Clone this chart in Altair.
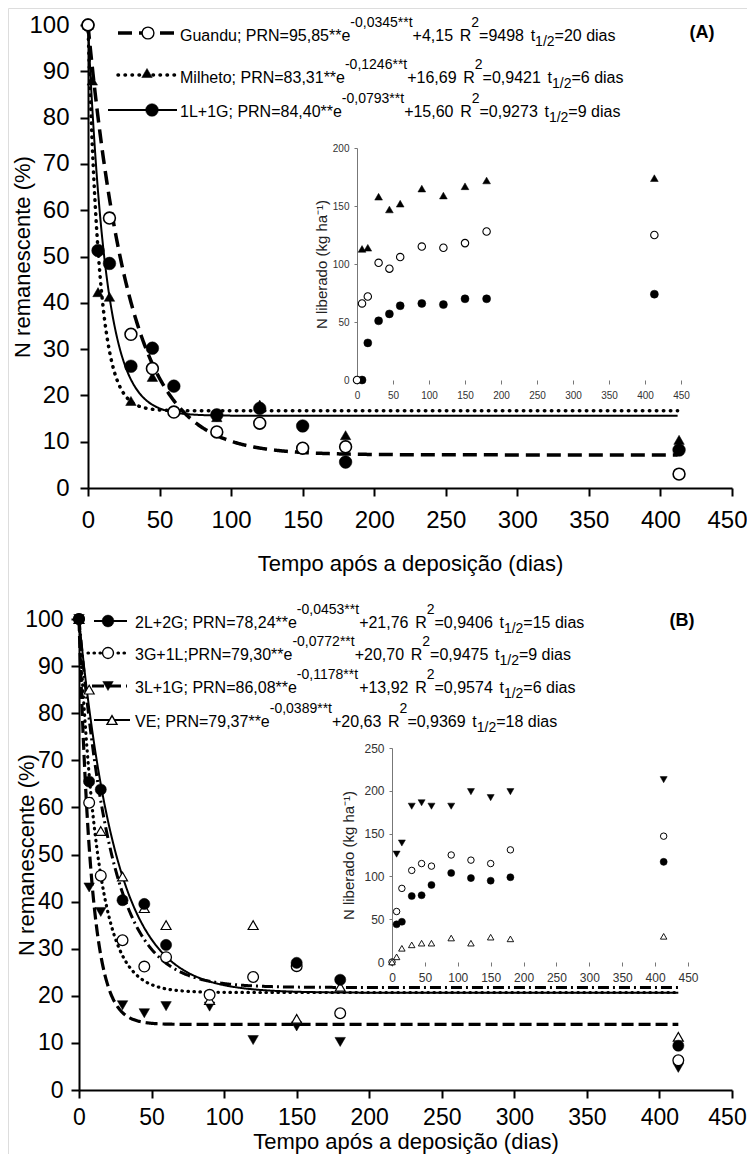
import altair as alt
import numpy as np
import pandas as pd

# ---------------- data ----------------
# Panel (A) - N remanescente (%)
a_guandu_t = [0, 15, 30, 45, 60, 90, 120, 150, 180, 413]
a_guandu_v = [100, 58.3, 33.2, 25.8, 16.4, 12.1, 14.0, 8.6, 8.9, 3.0]
a_milheto_t = [0, 3, 7, 15, 30, 45, 90, 120, 180, 413]
a_milheto_v = [100, 88, 42.3, 41.3, 18.8, 24.0, 15.3, 18.0, 11.4, 10.4]
a_l1g1_t = [0, 7, 15, 30, 45, 60, 90, 120, 150, 180, 413]
a_l1g1_v = [100, 51.3, 48.5, 26.3, 30.2, 22.0, 15.8, 17.2, 13.4, 5.6, 8.2]

# fitted curves of panel (A): amp*exp(-k t)+c
a_amp = [92.85, 83.31, 84.40]
a_k = [0.0345, 0.1246, 0.0793]
a_c = [7.15, 16.69, 15.60]

# inset (A) - N liberado (kg/ha)
ia_guandu_t = [0, 7, 15, 30, 45, 60, 90, 120, 150, 180, 413]
ia_guandu_v = [0, 66, 72, 101, 96, 106, 115, 114, 118, 128, 125]
ia_milheto_t = [7, 15, 30, 45, 60, 90, 120, 150, 180, 413]
ia_milheto_v = [113, 114, 158, 147, 152, 165, 159, 167, 172, 174]
ia_l1g1_t = [7, 15, 30, 45, 60, 90, 120, 150, 180, 413]
ia_l1g1_v = [0, 32, 51, 57, 64, 66, 65, 70, 70, 74]

# Panel (B)
b_2l2g_t = [0, 7, 15, 30, 45, 60, 150, 180, 413]
b_2l2g_v = [100, 65.5, 63.8, 40.3, 39.5, 30.8, 27.0, 23.4, 9.4]
b_3g1l_t = [0, 7, 15, 30, 45, 60, 90, 120, 150, 180, 413]
b_3g1l_v = [100, 61.0, 45.5, 31.8, 26.2, 28.2, 20.2, 24.0, 26.3, 16.3, 6.3]
b_3l1g_t = [0, 7, 15, 30, 45, 60, 90, 120, 150, 180, 413]
b_3l1g_v = [100, 43.0, 37.8, 18.0, 16.3, 17.8, 17.7, 10.6, 13.5, 10.2, 4.7]
b_ve_t = [0, 7, 15, 30, 45, 60, 90, 120, 150, 180, 413]
b_ve_v = [100, 85.0, 55.0, 45.3, 38.6, 35.0, 19.1, 35.0, 15.1, 21.9, 11.3]

b_amp = [78.24, 79.30, 86.08, 79.37]
b_k = [0.0453, 0.0772, 0.1178, 0.0389]
b_c = [21.76, 20.70, 13.92, 20.63]

# inset (B)
ib_2l2g_t = [7, 15, 30, 45, 60, 90, 120, 150, 180, 413]
ib_2l2g_v = [44, 47, 77, 78, 90, 104, 98, 95, 99, 117]
ib_3g1l_t = [0, 7, 15, 30, 45, 60, 90, 120, 150, 180, 413]
ib_3g1l_v = [0, 59, 86, 107, 115, 112, 125, 119, 115, 131, 147]
ib_3l1g_t = [7, 15, 30, 45, 60, 90, 120, 150, 180, 413]
ib_3l1g_v = [126, 139, 182, 186, 182, 182, 199, 192, 199, 213]
ib_ve_t = [0, 7, 15, 30, 45, 60, 90, 120, 150, 180, 413]
ib_ve_v = [0, 6, 16, 20, 22, 22, 28, 22, 29, 27, 30]

# legend texts
leg_a = [
    ["Guandu; PRN=95,85**e", "-0,0345**t", "+4,15", "R", "2", "=9498", "t", "1/2", "=20 dias"],
    ["Milheto; PRN=83,31**e", "-0,1246**t", "+16,69", "R", "2", "=0,9421", "t", "1/2", "=6 dias"],
    ["1L+1G; PRN=84,40**e", "-0,0793**t", "+15,60", "R", "2", "=0,9273", "t", "1/2", "=9 dias"],
]
leg_b = [
    ["2L+2G; PRN=78,24**e", "-0,0453**t", "+21,76", "R", "2", "=0,9406", "t", "1/2", "=15 dias"],
    ["3G+1L;PRN=79,30**e", "-0,0772**t", "+20,70", "R", "2", "=0,9475", "t", "1/2", "=9 dias"],
    ["3L+1G; PRN=86,08**e", "-0,1178**t", "+13,92", "R", "2", "=0,9574", "t", "1/2", "=6 dias"],
    ["VE; PRN=79,37**e", "-0,0389**t", "+20,63", "R", "2", "=0,9369", "t", "1/2", "=18 dias"],
]

# ---------------- layout ----------------
H = 1146
W = 739
FONT = "Liberation Sans"
BASE_FS = 16
SUP_FS = 14

AX, AY = [80, 724], [480, 17]
AIX, AIY = [349, 673], [372, 140]
BX, BY = [71, 724], [1082, 611]
BIX, BIY = [384, 680], [954, 740]

LAST_SHIFT = {"condition": {"test": "datum.value === 450", "value": -5}, "value": 0}


def sc(domain, rng):
    return alt.Scale(domain=domain, range=rng, nice=False, zero=False)


def main_x_axis(y_px, title_y, pad, fs):
    return alt.Axis(orient="bottom", offset=y_px - H, values=list(range(0, 451, 50)), grid=False,
                    domainColor="black", domainWidth=2, tickColor="black", tickWidth=2, tickSize=8,
                    labelFont=FONT, labelFontSize=fs, labelColor="black", labelPadding=pad,
                    labelFlush=False, labelOverlap=False, labelBound=False, labelOffset=LAST_SHIFT,
                    title="Tempo após a deposição (dias)", titleFont=FONT, titleFontSize=22,
                    titleFontWeight="normal", titleColor="black", titleY=title_y,
                    titleBaseline="alphabetic")


def main_y_axis(x_px, title_x, title_y, pad, fs):
    return alt.Axis(orient="left", offset=-x_px, values=list(range(0, 101, 10)), grid=False,
                    domainColor="black", domainWidth=2, tickColor="black", tickWidth=2, tickSize=8,
                    labelFont=FONT, labelFontSize=fs, labelColor="black", labelPadding=pad,
                    labelFlush=False, labelOverlap=False, labelBound=False,
                    title="N remanescente (%)", titleFont=FONT, titleFontSize=22,
                    titleFontWeight="normal", titleColor="black", titleX=title_x, titleY=title_y,
                    titleAngle=-90, titleBaseline="bottom", titleAlign="center")


def inset_x_axis(y_px, fs):
    return alt.Axis(orient="bottom", offset=y_px - H, values=list(range(0, 451, 50)), grid=False,
                    domain=False, tickColor="#777", tickWidth=1, tickSize=4,
                    labelFont=FONT, labelFontSize=fs, labelColor="#333", labelPadding=6,
                    labelFlush=False, labelOverlap=False, labelBound=False, title=None)


def inset_y_axis(x_px, ymax, title_x, title_y, fs):
    return alt.Axis(orient="left", offset=-x_px, values=list(range(0, ymax + 1, 50)), grid=False,
                    domainColor="#777", domainWidth=1, tickColor="#777", tickWidth=1, tickSize=3,
                    labelFont=FONT, labelFontSize=fs, labelColor="#333", labelPadding=5,
                    labelFlush=False, labelOverlap=False, labelBound=False,
                    title="N liberado (kg ha⁻¹)", titleFont=FONT, titleFontSize=15,
                    titleFontWeight="normal", titleColor="#222", titleX=title_x, titleY=title_y,
                    titleAngle=-90, titleBaseline="bottom", titleAlign="center")


STYLES = {
    "dashA": dict(strokeDash=[14, 7], strokeWidth=3.5),
    "dotA": dict(strokeDash=[0.5, 6.5], strokeWidth=3.5, strokeCap="round"),
    "solid": dict(strokeWidth=2),
    "dashB": dict(strokeDash=[12, 5], strokeWidth=3.2),
    "dotB": dict(strokeDash=[0.5, 5.5], strokeWidth=3.2, strokeCap="round"),
    "dashdot": dict(strokeDash=[11, 4, 2, 4], strokeWidth=3),
}


def curve(amp, k, c, tmax, xs, ys, style, xaxis=None, yaxis=None):
    t = np.arange(0, tmax + 0.01, 0.5)
    df = pd.DataFrame({"t": t, "v": c + amp * np.exp(-k * t)})
    return alt.Chart(df).mark_line(color="black", **STYLES[style]).encode(
        x=alt.X("t:Q", scale=xs, axis=xaxis), y=alt.Y("v:Q", scale=ys, axis=yaxis))


def pts(t, v, xs, ys, shape, filled, size, sw=1.4, xaxis=None, yaxis=None):
    df = pd.DataFrame({"t": t, "v": v})
    return alt.Chart(df).mark_point(
        shape=shape, filled=True, fill="black" if filled else "white", stroke="black",
        strokeWidth=0.5 if filled else sw, size=size, opacity=1).encode(
        x=alt.X("t:Q", scale=xs, axis=xaxis), y=alt.Y("v:Q", scale=ys, axis=yaxis))


ONE = pd.DataFrame({"a": [0]})


def leg_line(x1, x2, y, style):
    return alt.Chart(ONE).mark_rule(color="black", **STYLES[style]).encode(
        x=alt.value(x1), x2=alt.value(x2), y=alt.value(y))


def leg_marker(x, y, shape, filled, size):
    return alt.Chart(ONE).mark_point(
        shape=shape, filled=True, fill="black" if filled else "white", stroke="black",
        strokeWidth=0.5 if filled else 1.4, size=size, opacity=1).encode(
        x=alt.value(x), y=alt.value(y))


WID = {" ": 278, "(": 333, ")": 333, "*": 389, "+": 584, ",": 278, "-": 333, ".": 278,
       "/": 278, ";": 278, "=": 584, "A": 667, "B": 667, "E": 667, "G": 778, "L": 556,
       "M": 833, "N": 722, "P": 667, "R": 722, "V": 667, "a": 556, "d": 556, "e": 556,
       "h": 556, "i": 222, "l": 222, "n": 556, "o": 556, "s": 500, "t": 278, "u": 556}


def tw(s, fs):
    return sum(WID.get(ch, 556) for ch in s) * fs / 1000.0


KINDS = ["b", "sup", "b", "gap", "b", "sup", "b", "gap", "b", "sub", "b"]


def legend_rows(x0, yc, texts):
    rows = []
    x = x0
    parts = texts[:3] + [None] + texts[3:6] + [None] + texts[6:]
    for s, kind in zip(parts, KINDS):
        if kind == "gap":
            x += 1.5 * 278 * BASE_FS / 1000.0
            continue
        fs = BASE_FS if kind == "b" else SUP_FS
        dy = {"b": 0, "sup": -13, "sub": 6}[kind]
        rows.append({"x": x, "y": yc + dy, "s": s, "fs": fs})
        x += tw(s, fs)
    return rows


def text_layers(rows, bold=False):
    out = []
    df = pd.DataFrame(rows)
    for fs in sorted(df["fs"].unique()):
        sub = df[df["fs"] == fs].reset_index(drop=True)
        out.append(alt.Chart(sub).mark_text(
            align="left", baseline="middle", font=FONT, color="black", fontSize=float(fs),
            fontWeight="bold" if bold else "normal").encode(
            x=alt.X("x:Q", scale=None, axis=None), y=alt.Y("y:Q", scale=None, axis=None),
            text="s:N"))
    return out


layers = []

# ---------- panel A ----------
sAX, sAY = sc([0, 450], AX), sc([0, 100], AY)
layers.append(curve(a_amp[0], a_k[0], a_c[0], 412, sAX, sAY, "dashA",
                    xaxis=main_x_axis(480, 82, 12, 24),
                    yaxis=main_y_axis(80, -54, 248.5, 11, 24)))
layers.append(curve(a_amp[1], a_k[1], a_c[1], 412, sAX, sAY, "dotA"))
layers.append(curve(a_amp[2], a_k[2], a_c[2], 412, sAX, sAY, "solid"))
layers.append(pts(a_milheto_t, a_milheto_v, sAX, sAY, "triangle-up", True, 110))
layers.append(pts(a_l1g1_t, a_l1g1_v, sAX, sAY, "circle", True, 160))
layers.append(pts(a_guandu_t, a_guandu_v, sAX, sAY, "circle", False, 140, sw=1.6))

sAIX, sAIY = sc([0, 450], AIX), sc([0, 200], AIY)
layers.append(pts(ia_milheto_t, ia_milheto_v, sAIX, sAIY, "triangle-up", True, 60,
                  xaxis=inset_x_axis(372, 10), yaxis=inset_y_axis(349, 200, -28, 256, 10)))
layers.append(pts(ia_l1g1_t, ia_l1g1_v, sAIX, sAIY, "circle", True, 64))
layers.append(pts(ia_guandu_t, ia_guandu_v, sAIX, sAIY, "circle", False, 55, sw=1.1))

# legend A
layers.append(leg_line(110, 169, 25, "dashA"))
layers.append(leg_marker(140, 25, "circle", False, 140))
layers.append(leg_line(110, 169, 67, "dotA"))
layers.append(leg_marker(139, 65, "triangle-up", True, 110))
layers.append(leg_line(100, 169, 102, "solid"))
layers.append(leg_marker(144, 102, "circle", True, 160))
rows_a = []
for i, yc in enumerate([28, 70, 104]):
    rows_a += legend_rows(172, yc, leg_a[i])
layers += text_layers(rows_a)

# ---------- panel B ----------
sBX, sBY = sc([0, 450], BX), sc([0, 100], BY)
layers.append(curve(b_amp[0], b_k[0], b_c[0], 413, sBX, sBY, "dashdot",
                    xaxis=main_x_axis(1082, 58, 8, 23),
                    yaxis=main_y_axis(71, -41, 846.5, 8, 23)))
layers.append(curve(b_amp[1], b_k[1], b_c[1], 413, sBX, sBY, "dotB"))
layers.append(curve(b_amp[2], b_k[2], b_c[2], 413, sBX, sBY, "dashB"))
layers.append(curve(b_amp[3], b_k[3], b_c[3], 413, sBX, sBY, "solid"))
layers.append(pts(b_3l1g_t, b_3l1g_v, sBX, sBY, "triangle-down", True, 110))
layers.append(pts(b_ve_t, b_ve_v, sBX, sBY, "triangle-up", False, 100, sw=1.2))
layers.append(pts(b_3g1l_t, b_3g1l_v, sBX, sBY, "circle", False, 115, sw=1.3))
layers.append(pts(b_2l2g_t, b_2l2g_v, sBX, sBY, "circle", True, 125))

sBIX, sBIY = sc([0, 450], BIX), sc([0, 250], BIY)
layers.append(pts(ib_3l1g_t, ib_3l1g_v, sBIX, sBIY, "triangle-down", True, 50,
                  xaxis=inset_x_axis(954, 12), yaxis=inset_y_axis(384, 250, -36, 847, 12)))
layers.append(pts(ib_2l2g_t, ib_2l2g_v, sBIX, sBIY, "circle", True, 50))
layers.append(pts(ib_3g1l_t, ib_3g1l_v, sBIX, sBIY, "circle", False, 42, sw=1.0))
layers.append(pts(ib_ve_t, ib_ve_v, sBIX, sBIY, "triangle-up", False, 42, sw=0.9))

# legend B
layers.append(leg_line(86, 119, 613, "solid"))
layers.append(leg_marker(100, 613, "circle", True, 140))
layers.append(leg_line(80, 122, 645, "dotB"))
layers.append(leg_marker(100, 645, "circle", False, 120))
layers.append(leg_line(84, 119, 678, "dashB"))
layers.append(leg_marker(100, 678, "triangle-down", True, 110))
layers.append(leg_line(86, 122, 712, "solid"))
layers.append(leg_marker(104, 712, "triangle-up", False, 100))
rows_b = []
for i, yc in enumerate([615, 647, 680, 714]):
    rows_b += legend_rows(127, yc, leg_b[i])
layers += text_layers(rows_b)

# panel tags
layers += text_layers([{"x": 681.5, "y": 25, "s": "(A)", "fs": 18},
                       {"x": 661.5, "y": 613, "s": "(B)", "fs": 18}], bold=True)

chart = alt.layer(*layers).resolve_scale(x="independent", y="independent").properties(
    width=W, height=H, padding=0, autosize=alt.AutoSizeParams(type="none")
).configure_view(stroke=None).configure(background="white")

chart.save("out.html", embed_options={"renderer": "svg", "actions": False})
